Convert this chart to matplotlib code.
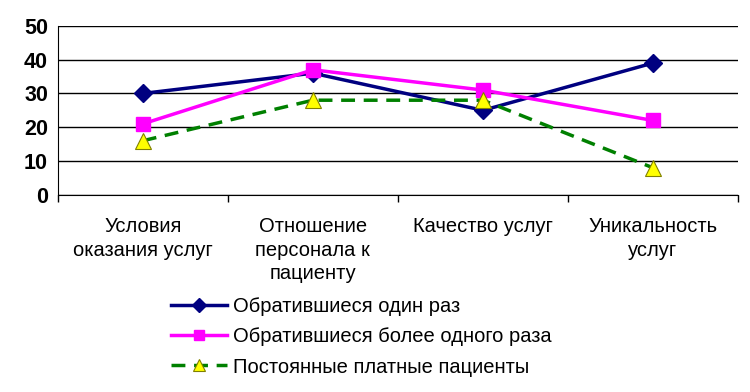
import matplotlib
matplotlib.use("Agg")
import matplotlib.pyplot as plt
from matplotlib.ticker import FixedLocator

categories = ["Условия\nоказания услуг", "Отношение\nперсонала к\nпациенту", "Качество услуг", "Уникальность\nуслуг"]
series_names = ["Обратившиеся один раз", "Обратившиеся более одного раза", "Постоянные платные пациенты"]
once = [30, 36, 25, 39]
more = [21, 37, 31, 22]
regular = [16, 28, 28, 8]
yticks = [0, 10, 20, 30, 40, 50]

plt.rcParams['font.family'] = ['Liberation Sans', 'DejaVu Sans']

fig = plt.figure(figsize=(7.5, 3.92), dpi=100)
ax = fig.add_axes([0.077, 0.503, 0.907, 0.431])
x = list(range(len(categories)))

ax.plot(x, once, color="#000080", lw=2.5, marker="D", markersize=9, markerfacecolor="#000080",
        markeredgecolor="#000080", label=series_names[0], zorder=3)
ax.plot(x, more, color="#FF00FF", lw=2.5, marker="s", markersize=10, markerfacecolor="#FF00FF",
        markeredgecolor="#FF00FF", label=series_names[1], zorder=4)
ax.plot(x, regular, color="#008000", lw=2.5, ls=(0, (4, 2.5)), marker="^", markersize=12,
        markerfacecolor="#FFFF00", markeredgecolor="#808000", markeredgewidth=0.8,
        label=series_names[2], zorder=5)

ax.set_xlim(-0.5, len(categories) - 0.5)
ax.set_ylim(0, 50)
ax.set_yticks(yticks)
ax.set_yticklabels([str(v) for v in yticks], fontsize=15.5, fontweight="bold")
ax.yaxis.grid(True, color="#000000", lw=1)
ax.set_axisbelow(True)
ax.tick_params(axis="y", length=0, pad=7)

ax.set_xticks(x)
ax.set_xticklabels(categories, fontsize=14.5, linespacing=1.3, va="top")
ax.tick_params(axis="x", which="major", length=0, pad=16)
ax.xaxis.set_minor_locator(FixedLocator([i - 0.5 for i in range(len(categories) + 1)]))
ax.tick_params(axis="x", which="minor", length=5, width=1, color="black", direction="out")

for s in ["top", "right"]:
    ax.spines[s].set_visible(False)
ax.spines["left"].set_color("black")
ax.spines["bottom"].set_color("black")

fig.legend(loc="upper left", bbox_to_anchor=(0.217, 0.262), frameon=False, fontsize=14.5,
           handlelength=2.8, handletextpad=0.3, labelspacing=0.55, borderaxespad=0,
           markerscale=0.75)

fig.savefig("out.png", dpi=100, facecolor="white")
